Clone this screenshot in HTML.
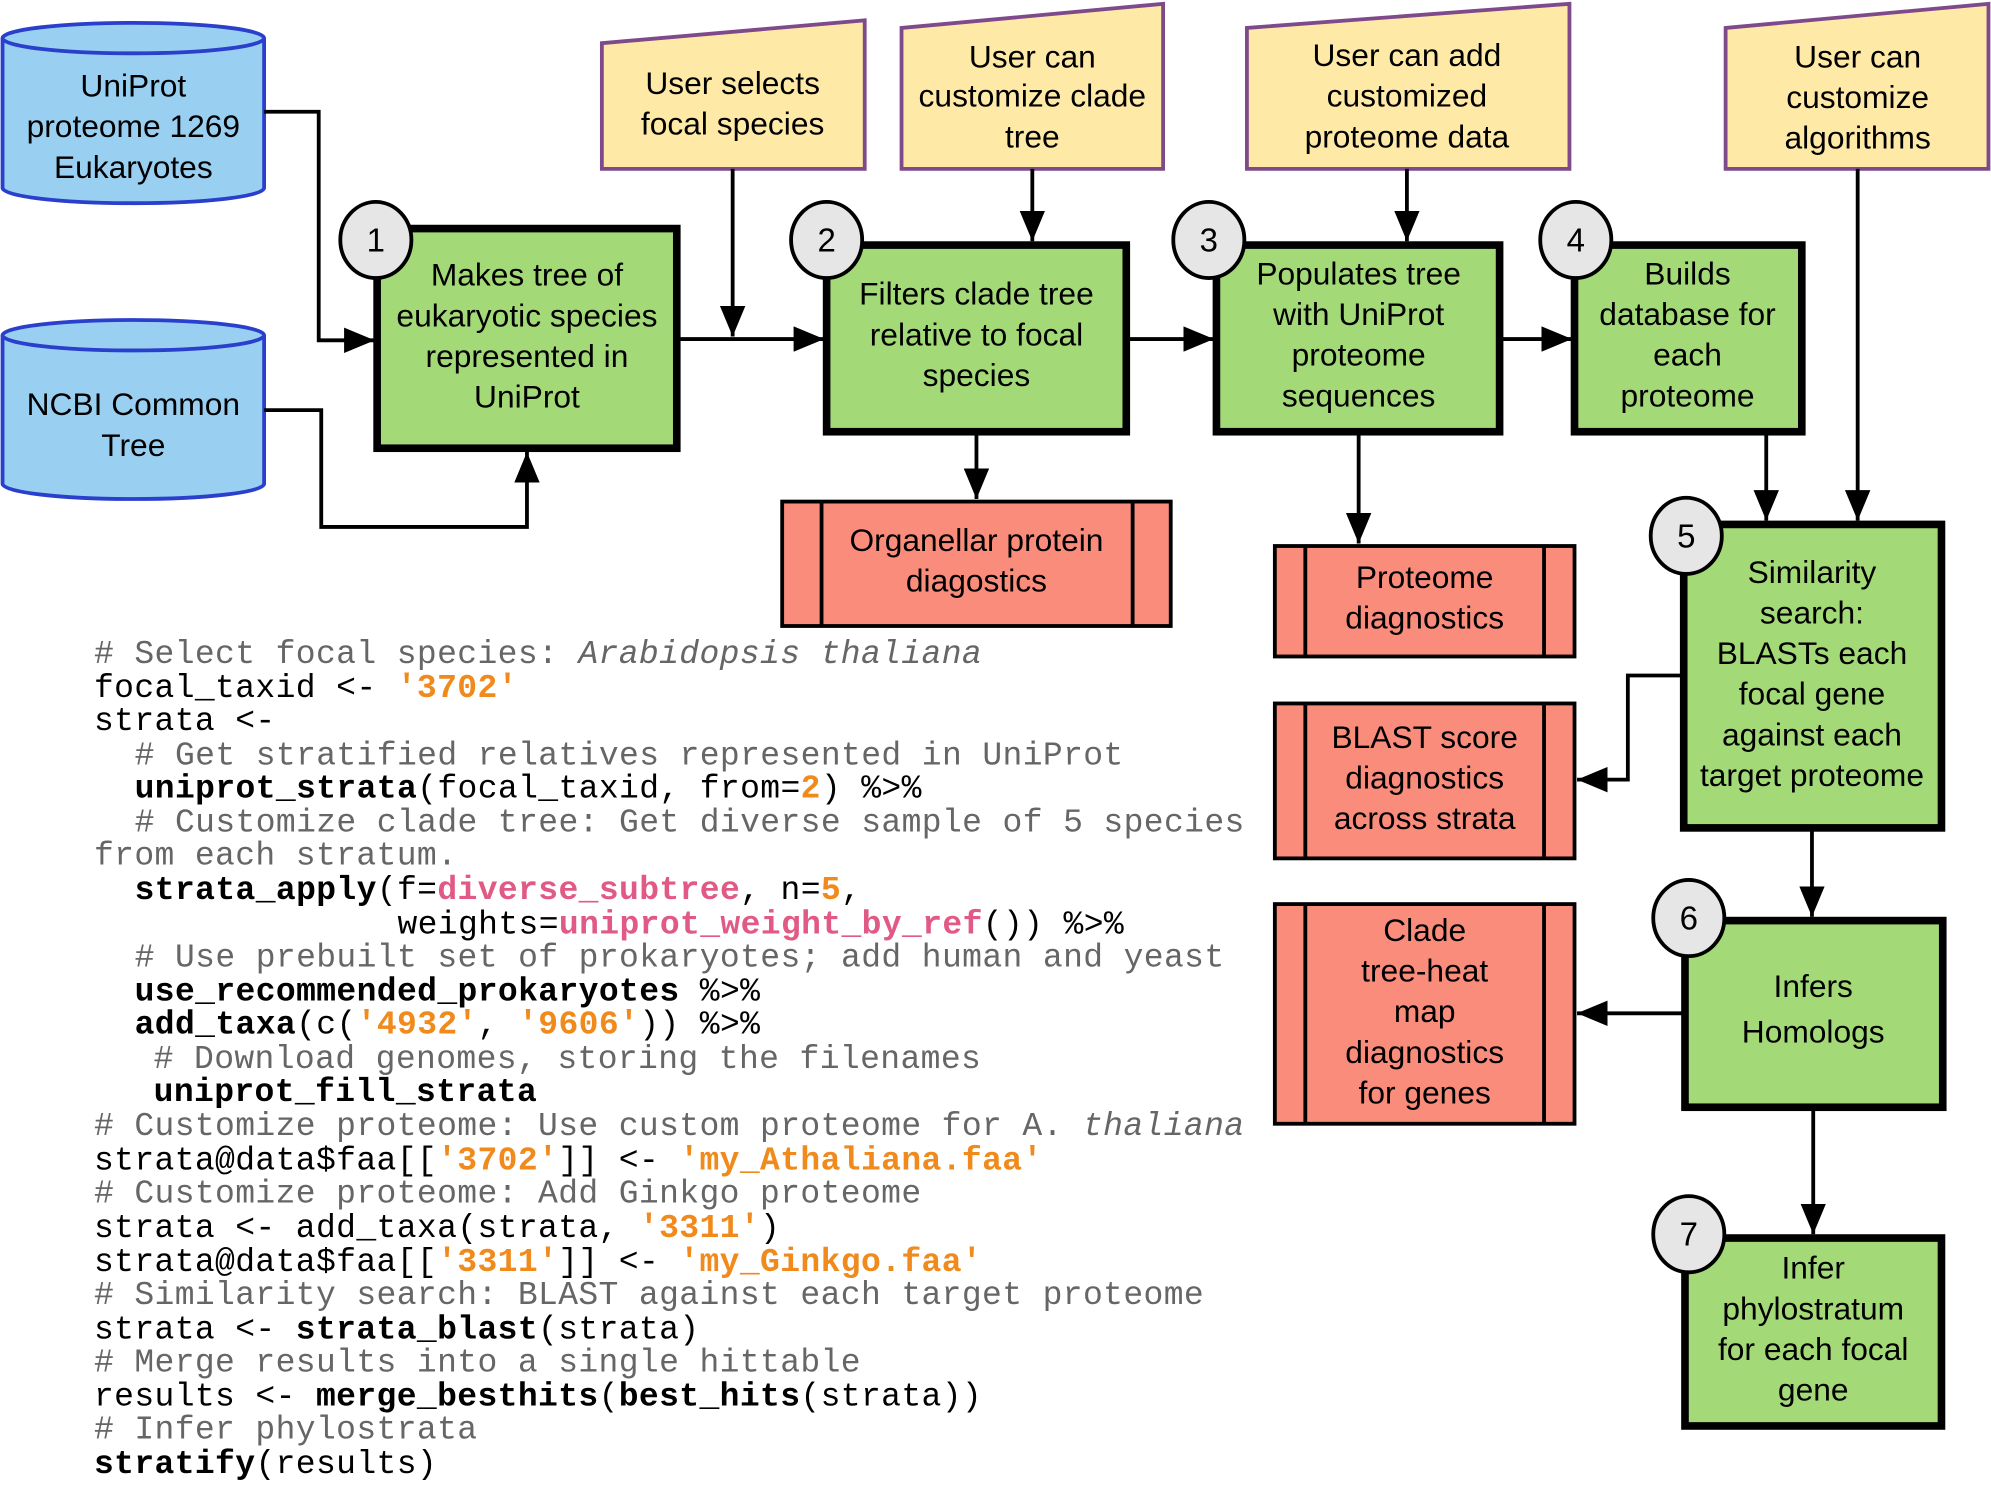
<!DOCTYPE html>
<html><head><meta charset="utf-8"><style>
html,body{margin:0;padding:0;background:#fff}
svg{display:block}
.t{font-family:"Liberation Sans",sans-serif;font-size:25px;text-anchor:middle;fill:#000}
.n{font-family:"Liberation Sans",sans-serif;font-size:26px;text-anchor:middle;fill:#000}
.c{font-family:"Liberation Mono",monospace;font-size:26px;letter-spacing:0.3px;fill:#000}
.cm{fill:#666}
.o{fill:#f08a1c;font-weight:bold}
.p{fill:#e05a85;font-weight:bold}
.b{font-weight:bold}
.g{fill:#a3d977;stroke:#000;stroke-width:6}
.r{fill:#fa8c7c;stroke:#000;stroke-width:3}
.y{fill:#feeaa6;stroke:#7f4a8c;stroke-width:3}
.cy{fill:#99d0f2;stroke:#2a3fcb;stroke-width:3}
.ci{fill:#e6e6e6;stroke:#000;stroke-width:3}
.l{fill:none;stroke:#000;stroke-width:3}
</style></head><body>
<svg width="1991" height="1492" viewBox="0 0 1568 1175" xmlns="http://www.w3.org/2000/svg">
<defs>
<marker id="A" markerWidth="24" markerHeight="20" refX="24" refY="10" orient="auto" markerUnits="userSpaceOnUse"><path d="M0,0 L24,10 L0,20z" fill="#000"/></marker></defs>

<path class="cy" d="M2,30 L2,148 A103,12 0 0 0 208,148 L208,30"/>
<ellipse class="cy" cx="105" cy="30" rx="103" ry="12"/>
<text class="t" x="105" y="76">UniProt</text><text class="t" x="105" y="108">proteome 1269</text><text class="t" x="105" y="140">Eukaryotes</text>
<path class="cy" d="M2,264 L2,381 A103,12 0 0 0 208,381 L208,264"/>
<ellipse class="cy" cx="105" cy="264" rx="103" ry="12"/>
<text class="t" x="105" y="327">NCBI Common</text><text class="t" x="105" y="359">Tree</text>

<polygon class="y" points="474,34 681,16 681,133 474,133"/>
<text class="t" x="577" y="74">User selects</text><text class="t" x="577" y="106">focal species</text>
<polygon class="y" points="710,22 916,3 916,133 710,133"/>
<text class="t" x="813" y="53">User can</text><text class="t" x="813" y="84">customize clade</text><text class="t" x="813" y="116">tree</text>
<polygon class="y" points="982,22 1236,3 1236,133 982,133"/>
<text class="t" x="1108" y="52">User can add</text><text class="t" x="1108" y="84">customized</text><text class="t" x="1108" y="116">proteome data</text>
<polygon class="y" points="1359,22 1566,3 1566,133 1359,133"/>
<text class="t" x="1463" y="53">User can</text><text class="t" x="1463" y="85">customize</text><text class="t" x="1463" y="117">algorithms</text>

<g class="l">
<path d="M208,88 H251 V268 H295" marker-end="url(#A)"/>
<path d="M208,323 H253 V415 H415 V356" marker-end="url(#A)"/>
<path d="M533,267 H649" marker-end="url(#A)"/>
<path d="M577,133 V265" marker-end="url(#A)"/>
<path d="M813,133 V190" marker-end="url(#A)"/>
<path d="M887,267 H956" marker-end="url(#A)"/>
<path d="M1108,133 V190" marker-end="url(#A)"/>
<path d="M1181,267 H1238" marker-end="url(#A)"/>
<path d="M769,340 V393" marker-end="url(#A)"/>
<path d="M1070,340 V428" marker-end="url(#A)"/>
<path d="M1391,340 V410" marker-end="url(#A)"/>
<path d="M1463,133 V410" marker-end="url(#A)"/>
<path d="M1326,532 H1282 V614 H1242" marker-end="url(#A)"/>
<path d="M1427,652 V722" marker-end="url(#A)"/>
<path d="M1327,798 H1242" marker-end="url(#A)"/>
<path d="M1428,872 V972" marker-end="url(#A)"/>
</g>

<rect class="g" x="297" y="180" width="236" height="173"/>
<text class="t" x="415" y="225">Makes tree of</text><text class="t" x="415" y="257">eukaryotic species</text><text class="t" x="415" y="289">represented in</text><text class="t" x="415" y="321">UniProt</text>
<rect class="g" x="651" y="193" width="236" height="147"/>
<text class="t" x="769" y="240">Filters clade tree</text><text class="t" x="769" y="272">relative to focal</text><text class="t" x="769" y="304">species</text>
<rect class="g" x="958" y="193" width="223" height="147"/>
<text class="t" x="1070" y="224">Populates tree</text><text class="t" x="1070" y="256">with UniProt</text><text class="t" x="1070" y="288">proteome</text><text class="t" x="1070" y="320">sequences</text>
<rect class="g" x="1240" y="193" width="179" height="147"/>
<text class="t" x="1329" y="224">Builds</text><text class="t" x="1329" y="256">database for</text><text class="t" x="1329" y="288">each</text><text class="t" x="1329" y="320">proteome</text>
<rect class="g" x="1326" y="413" width="203" height="239"/>
<text class="t" x="1427" y="459">Similarity</text><text class="t" x="1427" y="491">search:</text><text class="t" x="1427" y="523">BLASTs each</text><text class="t" x="1427" y="555">focal gene</text><text class="t" x="1427" y="587">against each</text><text class="t" x="1427" y="619">target proteome</text>
<rect class="g" x="1327" y="725" width="203" height="147"/>
<text class="t" x="1428" y="785">Infers</text><text class="t" x="1428" y="821">Homologs</text>
<rect class="g" x="1327" y="975" width="202" height="148"/>
<text class="t" x="1428" y="1007">Infer</text><text class="t" x="1428" y="1039">phylostratum</text><text class="t" x="1428" y="1071">for each focal</text><text class="t" x="1428" y="1103">gene</text>

<ellipse class="ci" cx="296" cy="189" rx="28" ry="30"/><text class="n" x="296" y="198">1</text>
<ellipse class="ci" cx="651" cy="189" rx="28" ry="30"/><text class="n" x="651" y="198">2</text>
<ellipse class="ci" cx="952" cy="189" rx="28" ry="30"/><text class="n" x="952" y="198">3</text>
<ellipse class="ci" cx="1241" cy="189" rx="28" ry="30"/><text class="n" x="1241" y="198">4</text>
<ellipse class="ci" cx="1328" cy="422" rx="28" ry="30"/><text class="n" x="1328" y="431">5</text>
<ellipse class="ci" cx="1330" cy="723" rx="28" ry="30"/><text class="n" x="1330" y="732">6</text>
<ellipse class="ci" cx="1330" cy="972" rx="28" ry="30"/><text class="n" x="1330" y="981">7</text>

<rect class="r" x="616" y="395" width="306" height="98"/><path class="l" d="M647,395 V493 M892,395 V493"/>
<text class="t" x="769" y="434">Organellar protein</text><text class="t" x="769" y="466">diagostics</text>
<rect class="r" x="1004" y="430" width="236" height="87"/><path class="l" d="M1028,430 V517 M1216,430 V517"/>
<text class="t" x="1122" y="463">Proteome</text><text class="t" x="1122" y="495">diagnostics</text>
<rect class="r" x="1004" y="554" width="236" height="122"/><path class="l" d="M1028,554 V676 M1216,554 V676"/>
<text class="t" x="1122" y="589">BLAST score</text><text class="t" x="1122" y="621">diagnostics</text><text class="t" x="1122" y="653">across strata</text>
<rect class="r" x="1004" y="712" width="236" height="173"/><path class="l" d="M1028,712 V885 M1216,712 V885"/>
<text class="t" x="1122" y="741">Clade</text><text class="t" x="1122" y="773">tree-heat</text><text class="t" x="1122" y="805">map</text><text class="t" x="1122" y="837">diagnostics</text><text class="t" x="1122" y="869">for genes</text>

<g class="c">
<text x="74" y="522"><tspan class="cm"># Select focal species: <tspan font-style="italic">Arabidopsis thaliana</tspan></tspan></text>
<text x="74" y="549">focal_taxid &lt;- <tspan class="o">'3702'</tspan></text>
<text x="74" y="575">strata &lt;-</text>
<text x="106" y="602"><tspan class="cm"># Get stratified relatives represented in UniProt</tspan></text>
<text x="106" y="628"><tspan class="b">uniprot_strata</tspan>(focal_taxid, from=<tspan class="o">2</tspan>) %&gt;%</text>
<text x="106" y="655"><tspan class="cm"># Customize clade tree: Get diverse sample of 5 species</tspan></text>
<text x="74" y="681"><tspan class="cm">from each stratum.</tspan></text>
<text x="106" y="708"><tspan class="b">strata_apply</tspan>(f=<tspan class="p">diverse_subtree</tspan>, n=<tspan class="o">5</tspan>,</text>
<text x="313" y="735">weights=<tspan class="p">uniprot_weight_by_ref</tspan>()) %&gt;%</text>
<text x="106" y="761"><tspan class="cm"># Use prebuilt set of prokaryotes; add human and yeast</tspan></text>
<text x="106" y="788"><tspan class="b">use_recommended_prokaryotes</tspan> %&gt;%</text>
<text x="106" y="814"><tspan class="b">add_taxa</tspan>(c(<tspan class="o">'4932'</tspan>, <tspan class="o">'9606'</tspan>)) %&gt;%</text>
<text x="121" y="841"><tspan class="cm"># Download genomes, storing the filenames</tspan></text>
<text x="121" y="867"><tspan class="b">uniprot_fill_strata</tspan></text>
<text x="74" y="894"><tspan class="cm"># Customize proteome: Use custom proteome for A. <tspan font-style="italic">thaliana</tspan></tspan></text>
<text x="74" y="921">strata@data$faa[[<tspan class="o">'3702'</tspan>]] &lt;- <tspan class="o">'my_Athaliana.faa'</tspan></text>
<text x="74" y="947"><tspan class="cm"># Customize proteome: Add Ginkgo proteome</tspan></text>
<text x="74" y="974">strata &lt;- add_taxa(strata, <tspan class="o">'3311'</tspan>)</text>
<text x="74" y="1001">strata@data$faa[[<tspan class="o">'3311'</tspan>]] &lt;- <tspan class="o">'my_Ginkgo.faa'</tspan></text>
<text x="74" y="1027"><tspan class="cm"># Similarity search: BLAST against each target proteome</tspan></text>
<text x="74" y="1054">strata &lt;- <tspan class="b">strata_blast</tspan>(strata)</text>
<text x="74" y="1080"><tspan class="cm"># Merge results into a single hittable</tspan></text>
<text x="74" y="1107">results &lt;- <tspan class="b">merge_besthits</tspan>(<tspan class="b">best_hits</tspan>(strata))</text>
<text x="74" y="1133"><tspan class="cm"># Infer phylostrata</tspan></text>
<text x="74" y="1160"><tspan class="b">stratify</tspan>(results)</text>
</g>
</svg>
</body></html>
